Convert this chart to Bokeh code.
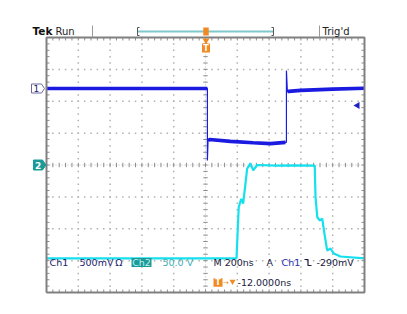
import numpy as np
from bokeh.plotting import figure
from bokeh.models import Range1d
from bokeh.core.properties import value
from bokeh.embed import file_html
from bokeh.resources import INLINE

# ---------------- data ----------------
# time in ns (200 ns/div, trigger at 0), vertical position in divisions (0 = screen centre)
ch1_t = [-1000, 12, 12, 16, 25, 157, 300, 409, 503, 509, 509, 515, 522, 600, 800, 1000]
ch1_v = [2.40, 2.40, 0.14, 0.76, 0.80, 0.74, 0.70, 0.67, 0.71, 0.71, 2.96, 2.30, 2.31, 2.34, 2.38, 2.41]
ch1_thick = [1, 1, 0, 1, 1, 1, 1, 1, 1, 0, 0, 1, 1, 1, 1, 1]

ch2_t = [-1000, 195, 209, 225, 237, 262, 283, 300, 325, 450, 550, 687,
         692, 703, 719, 734, 748, 765, 786, 807, 849, 1000]
ch2_v = [-2.93, -2.93, -1.32, -1.06, -1.21, -0.11, 0.05, -0.17, 0.00, -0.02, -0.01, -0.02,
         -1.01, -1.64, -1.74, -1.68, -2.15, -2.68, -2.62, -2.78, -2.87, -2.93]

trig_level_div = 1.87          # Ch1 trigger level marker (right edge)
ch1_ref_div = 2.40             # Ch1 ground marker
ch2_ref_div = 0.0              # Ch2 ground marker

ch1_scale = "500mV\u2009\u03a9"
ch2_scale = "50.0 V"
timebase = "M 200ns"
trig_text = "-290mV"
trig_pos = "-12.0000ns"

# ---------------- geometry helpers ----------------
CX, CY = 205.0, 164.5
PXX, PXY = 31.8, 31.875
OFF = 0.0


def tx(s):
    return (s - CX) / PXX * 200.0


def ty(s):
    return (CY - s) / PXY


W, H = 400, 306
p = figure(width=W, height=H, output_backend="svg", toolbar_location=None,
           x_range=Range1d(tx(OFF), tx(OFF + W)), y_range=Range1d(ty(OFF + H), ty(OFF)),
           min_border=0, background_fill_color="white", border_fill_color="white")
p.axis.visible = False
p.grid.visible = False
p.outline_line_color = None

GRID = "#b0b0b0"
# dotted graticule
gx, gy = [], []
for xd in range(-4, 5):
    if xd == 0:
        continue
    for yd in np.arange(-4, 4.001, 0.2):
        gx.append(xd * 200.0); gy.append(yd)
for yd in range(-3, 4):
    if yd == 0:
        continue
    for xd in np.arange(-5, 5.001, 0.2):
        gx.append(xd * 200.0); gy.append(yd)
p.scatter(gx, gy, marker="square", size=1.5, color=GRID, line_color=None)

# centre crosshair with minor ticks
p.segment(x0=[-1000, 0], y0=[0, -4], x1=[1000, 0], y1=[0, 4],
          line_color=GRID, line_width=0.8, line_dash="1 2")
mx = np.arange(-1000, 1000.1, 40.0)
my = np.arange(-4, 4.001, 0.2)
dtx = 2.2 / PXX * 200.0
dty = 2.2 / PXY
p.segment(x0=mx, y0=[-dty] * len(mx), x1=mx, y1=[dty] * len(mx), line_color="#8c8c8c", line_width=1)
p.segment(x0=[-dtx] * len(my), y0=my, x1=[dtx] * len(my), y1=my, line_color="#8c8c8c", line_width=1)

# border ticks
bl = 3.0
p.segment(x0=mx, y0=[4] * len(mx), x1=mx, y1=[4 - bl / PXY] * len(mx), line_color="#8c8c8c", line_width=1)
p.segment(x0=mx, y0=[-4] * len(mx), x1=mx, y1=[-4 + bl / PXY] * len(mx), line_color="#8c8c8c", line_width=1)
p.segment(x0=[-1000] * len(my), y0=my, x1=[-1000 + bl / PXX * 200] * len(my), y1=my, line_color="#8c8c8c", line_width=1)
p.segment(x0=[1000] * len(my), y0=my, x1=[1000 - bl / PXX * 200] * len(my), y1=my, line_color="#8c8c8c", line_width=1)

# ---------------- traces ----------------
CH1 = "#1a1ae0"
CH2 = "#14e0ee"
p.line(ch2_t, ch2_v, line_color=CH2, line_width=2.2)
p.line(ch1_t, ch1_v, line_color=CH1, line_width=1.2)
tk_t, tk_v = [], []
for i in range(len(ch1_t)):
    if ch1_thick[i]:
        tk_t.append(ch1_t[i]); tk_v.append(ch1_v[i])
    else:
        tk_t.append(np.nan); tk_v.append(np.nan)
p.line(tk_t, tk_v, line_color=CH1, line_width=3.6)

# frame border
p.line([-1000, 1000, 1000, -1000, -1000], [-4, -4, 4, 4, -4], line_color="#808080", line_width=2)

# ---------------- markers ----------------
# Ch1 reference marker
cy1 = ch1_ref_div
p.patch([tx(31), tx(41), tx(44), tx(41), tx(31)],
        [cy1 + 4.5 / PXY, cy1 + 4.5 / PXY, cy1, cy1 - 4.5 / PXY, cy1 - 4.5 / PXY],
        fill_color="white", line_color="#6a6aa0", line_width=1)
p.text([tx(33)], [cy1], text=["1"], text_font=value("DejaVu Sans"), text_font_size="9px",
       text_color="#20206a", text_baseline="middle", text_align="left")
# Ch2 reference marker
cy2 = ch2_ref_div
p.patch([tx(33), tx(42), tx(45.5), tx(42), tx(33)],
        [cy2 + 5 / PXY, cy2 + 5 / PXY, cy2, cy2 - 5 / PXY, cy2 - 5 / PXY],
        fill_color="#1a9a98", line_color="#1a9a98", line_width=1)
p.text([tx(34.5)], [cy2], text=["2"], text_font=value("DejaVu Sans"), text_font_size="9px",
       text_font_style="bold", text_color="white", text_baseline="middle", text_align="left")
# trigger level marker
p.scatter([tx(357)], [trig_level_div], marker="triangle", angle=np.pi / 2, size=7,
          color="#2020c0", line_color=None)

# ---------------- header ----------------
p.text([tx(32)], [ty(30.5)], text=["Tek"], text_font=value("DejaVu Sans"), text_font_size="10.5px",
       text_font_style="bold", text_color="#111111", text_baseline="middle", text_align="left")
p.text([tx(55)], [ty(30.5)], text=["Run"], text_font=value("DejaVu Sans"), text_font_size="10px",
       text_color="#222222", text_baseline="middle", text_align="left")
p.text([tx(322)], [ty(30.5)], text=["Trig'd"], text_font=value("DejaVu Sans"), text_font_size="10px",
       text_color="#222222", text_baseline="middle", text_align="left")
p.segment(x0=[tx(92), tx(319)], y0=[ty(25), ty(25)], x1=[tx(92), tx(319)], y1=[ty(37), ty(37)],
          line_color="#999999", line_width=1)
# record window bracket
p.segment(x0=[tx(137)], y0=[ty(31)], x1=[tx(273)], y1=[ty(31)], line_color="#80c8cc", line_width=2)
p.multi_line([[tx(139), tx(137), tx(137), tx(139)], [tx(271), tx(273), tx(273), tx(271)]],
             [[ty(27), ty(27), ty(35), ty(35)], [ty(27), ty(27), ty(35), ty(35)]],
             line_color="#555555", line_width=1)
ORANGE = "#f08a24"
p.rect([tx(205.5)], [ty(31)], width=[5.5 / PXX * 200], height=[8 / PXY], fill_color=ORANGE, line_color=None)
p.scatter([tx(205.5)], [ty(40)], marker="inverted_triangle", size=7, color=ORANGE, line_color=None)
p.rect([tx(205.5)], [ty(47.5)], width=[8 / PXX * 200], height=[9 / PXY], fill_color=ORANGE, line_color=None)
p.text([tx(205.5)], [ty(47.5)], text=["T"], text_font=value("DejaVu Sans"), text_font_size="8px",
       text_font_style="bold", text_color="white", text_baseline="middle", text_align="center")

# ---------------- readouts ----------------
NAVY = "#1c2370"
row1 = ty(262)
p.text([tx(49)], [row1], text=["Ch1"], text_font=value("DejaVu Sans"), text_font_size="9.5px",
       text_color=NAVY, text_baseline="middle", text_align="left")
p.text([tx(79)], [row1], text=[ch1_scale], text_font=value("DejaVu Sans"), text_font_size="9.5px",
       text_color=NAVY, text_baseline="middle", text_align="left")
p.rect([tx(141)], [row1], width=[20 / PXX * 200], height=[9 / PXY], fill_color="#1a9a98", line_color=None)
p.text([tx(141)], [row1], text=["Ch2"], text_font=value("DejaVu Sans"), text_font_size="9.5px",
       text_color="#bfeeee", text_baseline="middle", text_align="center")
p.text([tx(162)], [row1], text=[ch2_scale], text_font=value("DejaVu Sans"), text_font_size="9.5px",
       text_color="#38b0b8", text_baseline="middle", text_align="left")
p.text([tx(213)], [row1], text=[timebase], text_font=value("DejaVu Sans"), text_font_size="9.5px",
       text_color="#1a1a40", text_baseline="middle", text_align="left")
p.text([tx(266)], [row1], text=["A"], text_font=value("DejaVu Sans"), text_font_size="9.5px",
       text_color="#1a1a40", text_baseline="middle", text_align="left")
p.text([tx(281)], [row1], text=["Ch1"], text_font=value("DejaVu Sans"), text_font_size="9.5px",
       text_color="#2a2ab0", text_baseline="middle", text_align="left")
# falling-edge slope symbol
p.line([tx(304), tx(307.5), tx(307.5), tx(311)], [ty(259), ty(259), ty(265), ty(265)],
       line_color="#1a1a40", line_width=1.2)
p.text([tx(316)], [row1], text=[trig_text], text_font=value("DejaVu Sans"), text_font_size="9.5px",
       text_color="#1a1a40", text_baseline="middle", text_align="left")
row2 = ty(282)
p.rect([tx(217.5)], [row2], width=[9 / PXX * 200], height=[8.5 / PXY], fill_color=ORANGE, line_color=None)
p.text([tx(217.5)], [row2], text=["T"], text_font=value("DejaVu Sans"), text_font_size="8px",
       text_font_style="bold", text_color="white", text_baseline="middle", text_align="center")
p.text([tx(222.5)], [row2], text=["\u2192"], text_font=value("DejaVu Sans"), text_font_size="7px",
       text_color=ORANGE, text_baseline="middle", text_align="left")
p.scatter([tx(232)], [row2 + 1 / PXY], marker="inverted_triangle", size=6, color=ORANGE, line_color=None)
p.text([tx(237)], [row2], text=[trig_pos], text_font=value("DejaVu Sans"), text_font_size="9.5px",
       text_color="#1a1a40", text_baseline="middle", text_align="left")

open("out.html", "w").write(file_html(p, INLINE))
